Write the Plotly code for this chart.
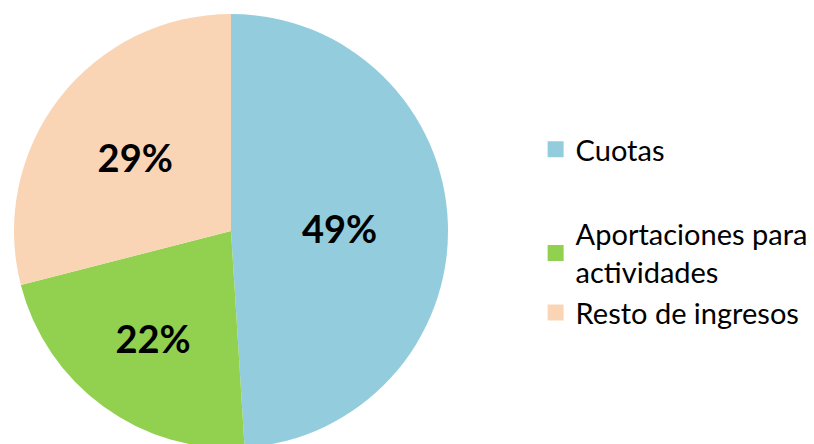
import plotly.graph_objects as go

categories = ["Cuotas", "Aportaciones para<br>actividades", "Resto de ingresos"]
values = [49, 22, 29]
colors = ["#93CDDD", "#92D050", "#FAD5B5"]
groups = ["g1", "g2", "g2"]

fig = go.Figure()
fig.add_trace(go.Pie(
    labels=categories, values=values, sort=False, direction="clockwise",
    rotation=0, marker=dict(colors=colors, line=dict(width=0)),
    texttemplate="%{percent:.0%}", textinfo="percent", textposition="inside",
    insidetextorientation="horizontal",
    textfont=dict(family="Lato", size=38, color="black", weight="bold"),
    showlegend=False, hoverinfo="label+percent",
    domain=dict(x=[0, 0.5676], y=[0.0044, 0.9689]),
))
for name, col, g in zip(categories, colors, groups):
    fig.add_trace(go.Scatter(
        x=[None], y=[None], mode="markers", name=name, legendgroup=g,
        marker=dict(symbol="square", size=17, color=col),
    ))

fig.update_layout(
    width=814, height=450, margin=dict(l=0, r=0, t=0, b=0),
    paper_bgcolor="white", plot_bgcolor="white",
    xaxis=dict(visible=False), yaxis=dict(visible=False),
    legend=dict(x=0.658, y=0.4867, xanchor="left", yanchor="middle",
                font=dict(family="Lato", size=29, color="black"),
                tracegroupgap=44, itemwidth=30, bgcolor="rgba(0,0,0,0)"),
)
fig.write_html("out.html", config={"displayModeBar": False},
               post_script="document.body.style.margin='0';document.body.style.overflow='hidden';")
